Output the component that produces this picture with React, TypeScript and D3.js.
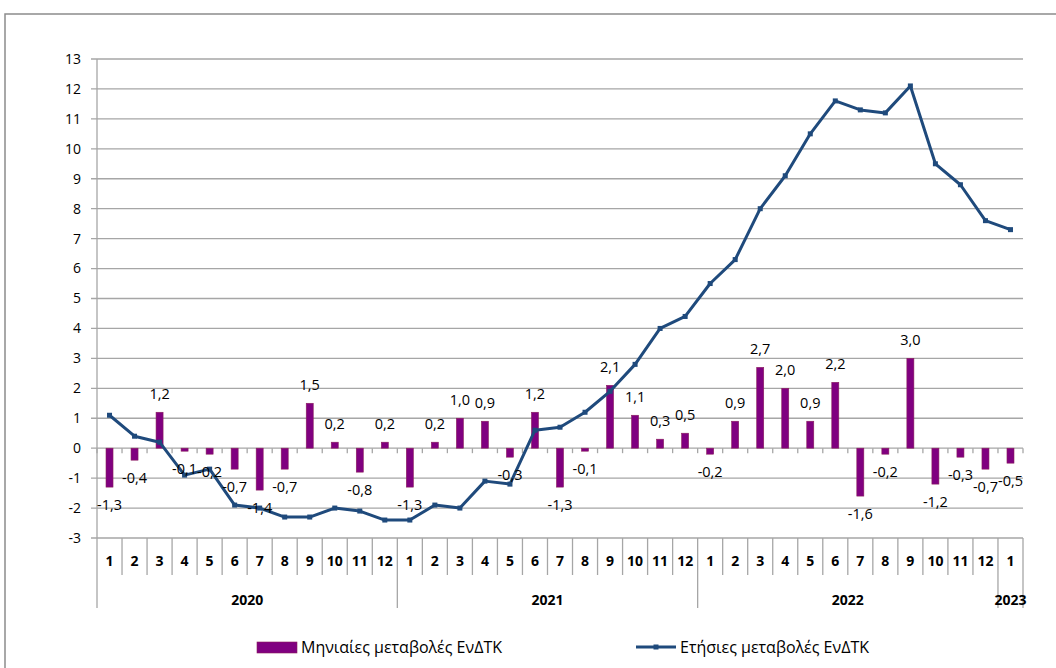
import React from "react";
import * as d3 from "d3";

const years = ["2020", "2021", "2022", "2023"];
const monthsPerYear = [12, 12, 12, 1];
const monthlyChange = [
  -1.3, -0.4, 1.2, -0.1, -0.2, -0.7, -1.4, -0.7, 1.5, 0.2, -0.8, 0.2,
  -1.3, 0.2, 1.0, 0.9, -0.3, 1.2, -1.3, -0.1, 2.1, 1.1, 0.3, 0.5,
  -0.2, 0.9, 2.7, 2.0, 0.9, 2.2, -1.6, -0.2, 3.0, -1.2, -0.3, -0.7,
  -0.5,
];
const annualChange = [
  1.1, 0.4, 0.2, -0.9, -0.7, -1.9, -2.0, -2.3, -2.3, -2.0, -2.1, -2.4,
  -2.4, -1.9, -2.0, -1.1, -1.2, 0.6, 0.7, 1.2, 1.9, 2.8, 4.0, 4.4,
  5.5, 6.3, 8.0, 9.1, 10.5, 11.6, 11.3, 11.2, 12.1, 9.5, 8.8, 7.6,
  7.3,
];
const yTicks = d3.range(-3, 14);
const legendLabels = ["Μηνιαίες μεταβολές ΕνΔΤΚ", "Ετήσιες μεταβολές ΕνΔΤΚ"];

const W = 1056;
const H = 668;
const BAR = "#800080";
const LINE = "#1F4A7C";
const GRID = "#a6a6a6";
const FONT = "'Open Sans', 'Noto Sans', sans-serif";

export default function App() {
  const cats: { year: string; month: number; idx: number }[] = [];
  years.forEach((yr, yi) => {
    for (let m = 1; m <= monthsPerYear[yi]; m++) cats.push({ year: yr, month: m, idx: cats.length });
  });
  const x = d3.scaleBand<number>().domain(cats.map((c) => c.idx)).range([97, 1023]).padding(0);
  const y = d3.scaleLinear().domain([-3, 13]).range([538, 59]);
  const bw = x.bandwidth();
  const barW = bw * 0.28;
  const cx = (i: number) => (x(i) as number) + bw / 2;
  const fmt = (v: number) => v.toFixed(1).replace(".", ",");

  const line = d3
    .line<number>()
    .x((_, i) => cx(i))
    .y((d) => y(d));

  const yearStart: number[] = [];
  let acc = 0;
  monthsPerYear.forEach((n) => {
    yearStart.push(acc);
    acc += n;
  });

  return (
    <svg
      width={W}
      height={H}
      style={{ position: "absolute", left: 0, top: 0, background: "#fff" }}
      fontFamily={FONT}
    >
      <rect x={5} y={14} width={W + 10} height={H + 10} fill="#fff" stroke="#8c8c8c" strokeWidth={1.5} />
      {yTicks.map((t) => (
        <g key={t}>
          <line x1={91} x2={1023} y1={y(t)} y2={y(t)} stroke={GRID} strokeWidth={1.3} />
          <text x={81} y={y(t)} dy="0.35em" textAnchor="end" fontSize={14} fill="#000">
            {t}
          </text>
        </g>
      ))}
      <line x1={97} x2={97} y1={59} y2={608} stroke={GRID} strokeWidth={1.3} />
      {d3.range(cats.length + 1).map((i) => (
        <line key={i} x1={97 + i * bw} x2={97 + i * bw} y1={y(0)} y2={y(0) + 5} stroke={GRID} strokeWidth={1.3} />
      ))}
      {d3.range(1, cats.length + 1).map((i) => {
        const isYear = yearStart.includes(i) || i === cats.length;
        return (
          <line
            key={"s" + i}
            x1={97 + i * bw}
            x2={97 + i * bw}
            y1={538}
            y2={isYear ? 608 : 575}
            stroke={GRID}
            strokeWidth={1.3}
          />
        );
      })}
      {cats.map((c) => (
        <text key={"m" + c.idx} x={cx(c.idx)} y={561} dy="0.35em" textAnchor="middle" fontSize={14} fontWeight="bold">
          {c.month}
        </text>
      ))}
      {years.map((yr, yi) => {
        const s = yearStart[yi];
        const e = s + monthsPerYear[yi];
        const mid = 97 + ((s + e) / 2) * bw;
        return (
          <text key={yr} x={mid} y={600} dy="0.35em" textAnchor="middle" fontSize={14} fontWeight="bold">
            {yr}
          </text>
        );
      })}
      {monthlyChange.map((v, i) => (
        <rect
          key={"b" + i}
          x={cx(i) - barW / 2}
          y={Math.min(y(v), y(0))}
          width={barW}
          height={Math.abs(y(v) - y(0))}
          fill={BAR}
          stroke="#8a1d5c"
          strokeWidth={0.6}
        />
      ))}
      <path d={line(annualChange) || ""} fill="none" stroke={LINE} strokeWidth={3} strokeLinejoin="round" />
      {annualChange.map((v, i) => (
        <rect key={"p" + i} x={cx(i) - 2.5} y={y(v) - 2.5} width={5} height={5} fill={LINE} />
      ))}
      {monthlyChange.map((v, i) => (
        <text
          key={"l" + i}
          x={cx(i)}
          y={v >= 0 ? y(v) - 18 : y(v) + 18}
          dy="0.35em"
          textAnchor="middle"
          fontSize={14.5}
          fill="#000"
        >
          {fmt(v)}
        </text>
      ))}
      <rect x={257} y={642} width={40} height={11} fill={BAR} stroke="#8a1d5c" strokeWidth={0.6} />
      <text x={301} y={647} dy="0.35em" fontSize={16}>
        {legendLabels[0]}
      </text>
      <line x1={636} x2={676} y1={647} y2={647} stroke={LINE} strokeWidth={3} />
      <rect x={653.5} y={644.5} width={5} height={5} fill={LINE} />
      <text x={680} y={647} dy="0.35em" fontSize={16}>
        {legendLabels[1]}
      </text>
    </svg>
  );
}
